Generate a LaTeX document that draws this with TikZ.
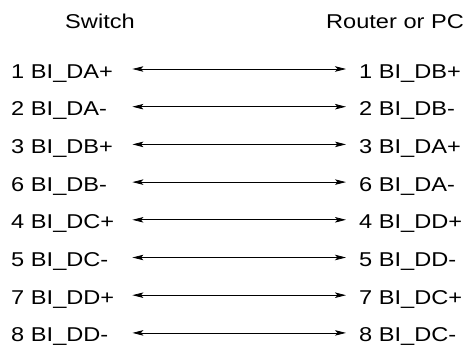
\documentclass[tikz,border=0pt]{standalone}
\usepackage{fontspec}
\setmainfont{Liberation Sans}[FakeStretch=1.18]
\usepackage{tikz}
\usetikzlibrary{arrows.meta}
\tikzset{
  head/.style={anchor=base,inner sep=0pt},                       % column titles
  pinl/.style={anchor=base west,inner sep=0pt,text width=121pt,
               align=left,text height=18pt,text depth=0pt},      % switch side
  pinr/.style={anchor=base west,inner xsep=13pt,inner ysep=0pt,
               text height=18pt,text depth=0pt},                 % router side
  ar/.style={{Stealth[length=11pt,width=5.5pt,inset=2.5pt]}-{Stealth[length=11pt,width=5.5pt,inset=2.5pt]},line width=0.8pt}
}

\begin{document}
\begin{tikzpicture}[x=1pt,y=-1pt,font=\fontsize{20}{24}\selectfont]
  \useasboundingbox (0,0) rectangle (468,351);
  \node[head] (sw) at (100,28) {Switch};
  \node[head] (pc) at (395,28) {Router or PC};

  \node[pinl] (l1) at (11,78.0)  {1 BI\_DA+};
  \node[pinl] (l2) at (11,115.7) {2 BI\_DA-};
  \node[pinl] (l3) at (11,153.4) {3 BI\_DB+};
  \node[pinl] (l4) at (11,191.1) {6 BI\_DB-};
  \node[pinl] (l5) at (11,228.8) {4 BI\_DC+};
  \node[pinl] (l6) at (11,266.5) {5 BI\_DC-};
  \node[pinl] (l7) at (11,304.2) {7 BI\_DD+};
  \node[pinl] (l8) at (11,341.9) {8 BI\_DD-};

  \node[pinr] (r1) at (346,78.0)  {1 BI\_DB+};
  \node[pinr] (r2) at (346,115.7) {2 BI\_DB-};
  \node[pinr] (r3) at (346,153.4) {3 BI\_DA+};
  \node[pinr] (r4) at (346,191.1) {6 BI\_DA-};
  \node[pinr] (r5) at (346,228.8) {4 BI\_DD+};
  \node[pinr] (r6) at (346,266.5) {5 BI\_DD-};
  \node[pinr] (r7) at (346,304.2) {7 BI\_DC+};
  \node[pinr] (r8) at (346,341.9) {8 BI\_DC-};

  \draw[ar] (l1.east) -- (r1.west);
  \draw[ar] (l2.east) -- (r2.west);
  \draw[ar] (l3.east) -- (r3.west);
  \draw[ar] (l4.east) -- (r4.west);
  \draw[ar] (l5.east) -- (r5.west);
  \draw[ar] (l6.east) -- (r6.west);
  \draw[ar] (l7.east) -- (r7.west);
  \draw[ar] (l8.east) -- (r8.west);
\end{tikzpicture}
\end{document}
